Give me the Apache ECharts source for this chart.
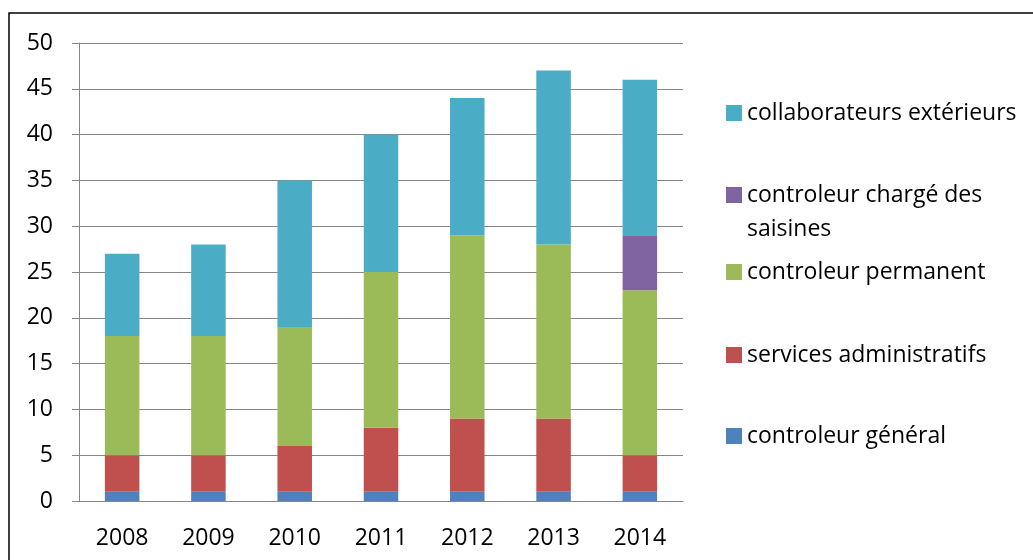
<!DOCTYPE html>
<html>
<head>
<meta charset="utf-8">
<script src="https://cdn.jsdelivr.net/npm/echarts@6/dist/echarts.min.js"></script>
<style>
  html, body { margin: 0; padding: 0; background: #fff; }
  #chart { width: 1033px; height: 560px; }
</style>
</head>
<body>
<div id="chart"></div>
<script>
// données
const years = ['2008', '2009', '2010', '2011', '2012', '2013', '2014']
const controleurGeneral = [1, 1, 1, 1, 1, 1, 1]
const servicesAdmin = [4, 4, 5, 7, 8, 8, 4]
const controleurPermanent = [13, 13, 13, 17, 20, 19, 18]
const controleurSaisines = [0, 0, 0, 0, 0, 0, 6]
const collaborateurs = [9, 10, 16, 15, 15, 19, 17]

const names = [
  'controleur général',
  'services administratifs',
  'controleur permanent',
  'controleur chargé des saisines',
  'collaborateurs extérieurs'
]
const colors = ['#4F81BD', '#C0504D', '#9BBB59', '#8064A2', '#4BACC6']
const values = [controleurGeneral, servicesAdmin, controleurPermanent, controleurSaisines, collaborateurs]

const font = 'Open Sans'
const gray = '#868686'

const chart = echarts.init(document.getElementById('chart'))

// une légende par entrée pour reproduire l'espacement d'Excel
const legendTops = {
  'collaborateurs extérieurs': 96,
  'controleur chargé des saisines': 144,
  'controleur permanent': 255,
  'services administratifs': 338,
  'controleur général': 419
}
const legends = Object.keys(legendTops).map(function (n) {
  return {
    data: [n],
    left: 726,
    top: legendTops[n],
    padding: 0,
    icon: 'rect',
    itemWidth: 16,
    itemHeight: 16,
    formatter: function (name) {
      return name === 'controleur chargé des saisines' ? '\ncontroleur chargé des\nsaisines' : name
    },
    textStyle: { fontFamily: font, fontSize: 23, color: '#000', lineHeight: 34 }
  }
})

const series = names.map(function (n, i) {
  return {
    name: n,
    type: 'bar',
    stack: 'total',
    data: values[i],
    barCategoryGap: '60%',
    itemStyle: { color: colors[i] }
  }
})

chart.setOption({
  animation: false,
  textStyle: { fontFamily: font },
  graphic: [{
    type: 'rect',
    shape: { x: 9, y: 13, width: 1200, height: 700 },
    style: { fill: 'none', stroke: '#000', lineWidth: 1.5 }
  }],
  grid: { left: 79, right: 350, top: 43, bottom: 59 },
  legend: legends,
  xAxis: {
    type: 'category',
    data: years,
    axisLine: { lineStyle: { color: gray, width: 1 } },
    axisTick: { length: 8, lineStyle: { color: gray } },
    axisLabel: { fontFamily: font, fontSize: 23, color: '#000', margin: 26 }
  },
  yAxis: {
    type: 'value',
    min: 0,
    max: 50,
    interval: 5,
    axisLine: { show: true, lineStyle: { color: gray, width: 1 } },
    axisTick: { show: true, length: 7, lineStyle: { color: gray } },
    axisLabel: { fontFamily: font, fontSize: 23, color: '#000', margin: 26 },
    splitLine: { lineStyle: { color: gray, width: 1 } }
  },
  series: series
})
</script>
</body>
</html>
